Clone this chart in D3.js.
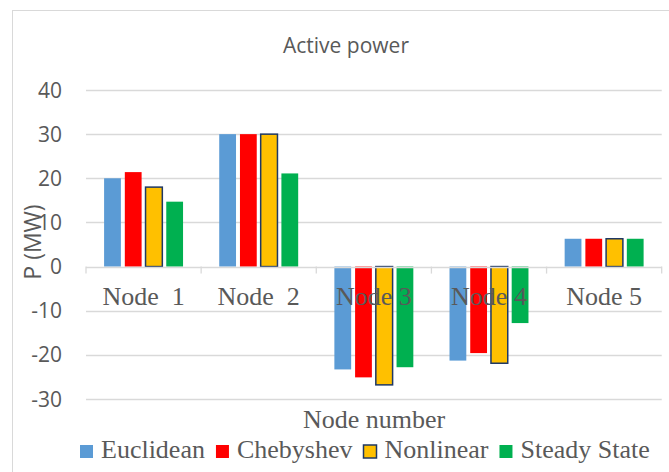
<!DOCTYPE html>
<html>
<head>
<meta charset="utf-8">
<script src="https://d3js.org/d3.v7.min.js"></script>
<style>
  body { margin: 0; background: #fff; }
  svg { display: block; }
</style>
</head>
<body>
<div id="vis"></div>
<script>
var w = 669,
    h = 472;

var categories = ["Node  1", "Node  2", "Node 3", "Node 4", "Node 5"];
var series = ["Euclidean", "Chebyshev", "Nonlinear", "Steady State"];
var euclidean = [20.0, 30.0, -23.3, -21.3, 6.3];
var chebyshev = [21.4, 30.0, -25.1, -19.6, 6.3];
var nonlinear = [18.0, 30.0, -26.8, -21.9, 6.3];
var steadyState = [14.7, 21.1, -22.8, -12.8, 6.3];
var yTicks = [-30, -20, -10, 0, 10, 20, 30, 40];

var colors = ["#5B9BD5", "#FF0000", "#FFC000", "#00B050"];
var values = [euclidean, chebyshev, nonlinear, steadyState];
var grey = "#595959";
var sans = "Open Sans";
var serif = "Liberation Serif";

var svg = d3.select("#vis").append("svg")
    .attr("width", w)
    .attr("height", h);

// chart frame, runs off the right and bottom edge like the original
svg.append("rect")
    .attr("x", 12.5).attr("y", 10.5)
    .attr("width", 668).attr("height", 480)
    .style("fill", "#fff")
    .style("stroke", "#D9D9D9")
    .style("stroke-width", 1);

var x0 = d3.scaleBand().domain(categories).range([86, 661.7]);
var x1 = d3.scaleBand().domain(series).range([0, x0.bandwidth()])
    .paddingInner(0.19).paddingOuter(0.873);
var y = d3.scaleLinear().domain([-30, 40]).range([399, 90]);

// gridlines
svg.append("g")
    .selectAll("line")
    .data(yTicks.filter(function(d){ return d != 0; }))
    .enter().append("line")
    .attr("x1", 86).attr("x2", 661.7)
    .attr("y1", function(d){ return Math.round(y(d)) + 0.5; })
    .attr("y2", function(d){ return Math.round(y(d)) + 0.5; })
    .style("stroke", "#D9D9D9")
    .style("stroke-width", 1.3);

// y tick labels
svg.append("g")
    .selectAll("text")
    .data(yTicks)
    .enter().append("text")
    .attr("x", 62)
    .attr("y", function(d){ return y(d); })
    .attr("dy", "0.36em")
    .attr("text-anchor", "end")
    .attr("font-family", sans)
    .attr("font-size", 21)
    .attr("fill", grey)
    .text(function(d){ return d; });

// bars
var rows = categories.map(function(c, i){
    return series.map(function(s, j){ return {cat: c, s: s, v: values[j][i], j: j}; });
});

svg.append("g")
    .selectAll("g")
    .data(rows)
    .enter().append("g")
    .attr("transform", function(d){ return "translate(" + x0(d[0].cat) + ",0)"; })
    .selectAll("rect")
    .data(function(d){ return d; })
    .enter().append("rect")
    .attr("x", function(d){ return x1(d.s); })
    .attr("width", x1.bandwidth())
    .attr("y", function(d){ return y(Math.max(0, d.v)); })
    .attr("height", function(d){ return Math.abs(y(d.v) - y(0)); })
    .style("fill", function(d){ return colors[d.j]; })
    .style("stroke", function(d){ return d.j == 2 ? "#1F3864" : "none"; })
    .style("stroke-width", 1.5);

// zero axis with tick marks between categories
var axis = svg.append("g");
axis.append("line")
    .attr("x1", 86).attr("x2", 661.7)
    .attr("y1", Math.round(y(0)) + 0.5).attr("y2", Math.round(y(0)) + 0.5)
    .style("stroke", "#D9D9D9")
    .style("stroke-width", 1.3);
axis.selectAll("line.tick")
    .data(categories.concat(["end"]))
    .enter().append("line")
    .attr("class", "tick")
    .attr("x1", function(d, i){ return 86 + i * x0.step(); })
    .attr("x2", function(d, i){ return 86 + i * x0.step(); })
    .attr("y1", y(0)).attr("y2", y(0) + 7)
    .style("stroke", "#D9D9D9")
    .style("stroke-width", 1.3);

// category labels, drawn over the bars
svg.append("g")
    .selectAll("text")
    .data(categories)
    .enter().append("text")
    .attr("x", function(d){ return x0(d) + x0.bandwidth() / 2; })
    .attr("y", 305)
    .attr("text-anchor", "middle")
    .attr("font-family", serif)
    .attr("font-size", 26)
    .attr("fill", grey)
    .style("white-space", "pre")
    .text(function(d){ return d; });

// titles
svg.append("text")
    .attr("x", 346).attr("y", 53)
    .attr("text-anchor", "middle")
    .attr("font-family", sans)
    .attr("font-size", 21)
    .attr("fill", grey)
    .text("Active power");

svg.append("text")
    .attr("transform", "translate(41,242) rotate(-90)")
    .attr("text-anchor", "middle")
    .attr("font-family", sans)
    .attr("font-size", 23)
    .attr("fill", grey)
    .text("P (MW)");

svg.append("text")
    .attr("x", 374).attr("y", 428)
    .attr("text-anchor", "middle")
    .attr("font-family", serif)
    .attr("font-size", 26)
    .attr("fill", grey)
    .text("Node number");

// legend
var lx = 80;
var legend = svg.append("g");
series.forEach(function(s, j){
    legend.append("rect")
        .attr("x", lx).attr("y", 445)
        .attr("width", 13).attr("height", 13)
        .style("fill", colors[j])
        .style("stroke", j == 2 ? "#1F3864" : "none")
        .style("stroke-width", 1.5);
    var t = legend.append("text")
        .attr("x", lx + 21).attr("y", 458)
        .attr("font-family", serif)
        .attr("font-size", 26)
        .attr("fill", grey)
        .text(s);
    lx = lx + 21 + t.node().getComputedTextLength() + 11;
});
</script>
</body>
</html>
